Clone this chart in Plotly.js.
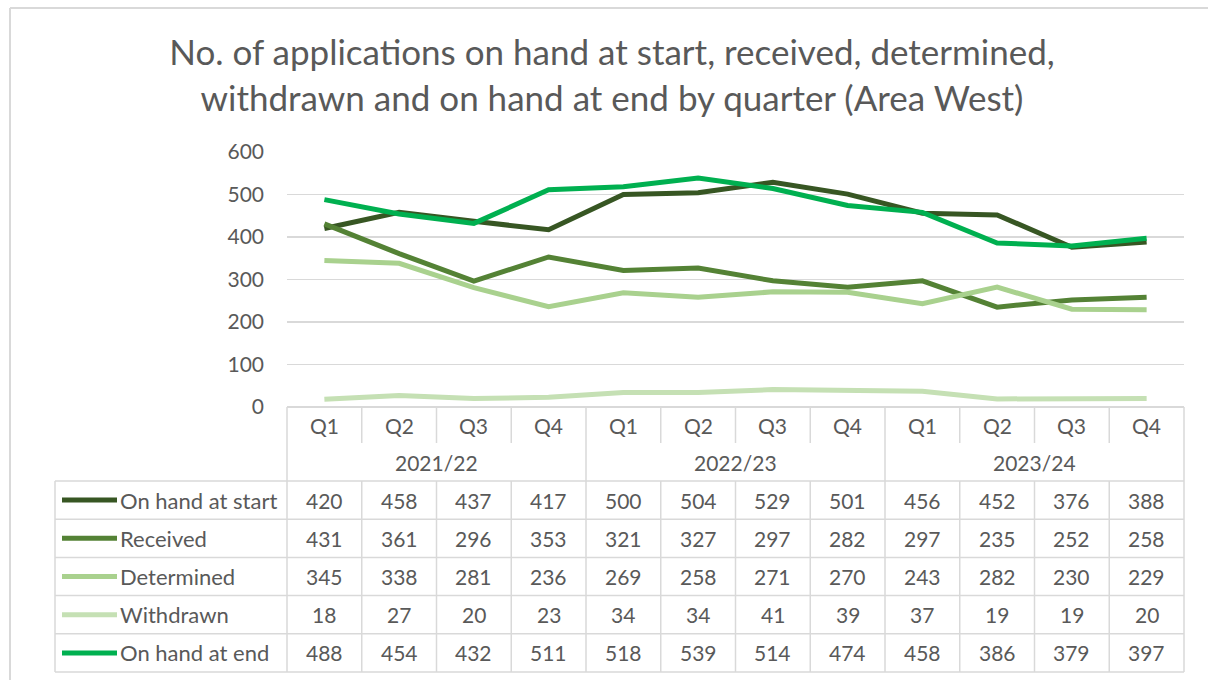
<!DOCTYPE html>
<html>
<head>
<meta charset="utf-8">
<script src="https://cdn.plot.ly/plotly-3.0.1.min.js"></script>
<style>html,body{margin:0;padding:0;background:#fff;}#chart{width:1208px;height:680px;}</style>
</head>
<body>
<div id="chart"></div>
<script>
// ---- Data ----
const quarters = ['Q1','Q2','Q3','Q4','Q1','Q2','Q3','Q4','Q1','Q2','Q3','Q4'];
const years = ['2021/22','2022/23','2023/24'];
const seriesNames = ['On hand at start','Received','Determined','Withdrawn','On hand at end'];
const onHandStart = [420,458,437,417,500,504,529,501,456,452,376,388];
const received    = [431,361,296,353,321,327,297,282,297,235,252,258];
const determined  = [345,338,281,236,269,258,271,270,243,282,230,229];
const withdrawn   = [18,27,20,23,34,34,41,39,37,19,19,20];
const onHandEnd   = [488,454,432,511,518,539,514,474,458,386,379,397];
const seriesColors = ['#375623','#548235','#A9D18E','#C5E0B4','#00B050'];

const allSeries = [onHandStart, received, determined, withdrawn, onHandEnd];

// ---- Layout geometry (pixels) ----
const W = 1208, H = 680;
const L = 287, R = 1184, T = 152, B = 407;
const px2x = p => (p - L) / (R - L);
const px2y = p => (B - p) / (B - T);
const nCat = quarters.length;
const colX = i => i / nCat; // paper x of column boundary i

const qRowBottom = 443, yearRowBottom = 481, rowH = 38.2, legendLeft = 55;
const rowTop = r => yearRowBottom + r * rowH;
const tableBottom = rowTop(seriesNames.length);
const gridColor = '#d9d9d9';
const textColor = '#595959';
const FONT = 'Lato, "Noto Sans", sans-serif';
const cellFont = {family: FONT, size: 21, color: textColor};

const xIdx = quarters.map((_, i) => i);

const traces = allSeries.map((vals, s) => ({
  type: 'scatter', mode: 'lines', x: xIdx, y: vals, name: seriesNames[s],
  line: {color: seriesColors[s], width: 5}, hoverinfo: 'skip'
}));

const shapes = [];
const annotations = [];
const hline = (x0, x1, py) => shapes.push({type:'line', xref:'paper', yref:'paper', x0, x1, y0:px2y(py), y1:px2y(py), line:{color:gridColor, width:1.5}});
const vline = (x, py0, py1) => shapes.push({type:'line', xref:'paper', yref:'paper', x0:x, x1:x, y0:px2y(py0), y1:px2y(py1), line:{color:gridColor, width:1.5}});

// Outer chart border (top & left visible)
shapes.push({type:'line', xref:'paper', yref:'paper', x0:px2x(10), x1:px2x(W), y0:px2y(8), y1:px2y(8), line:{color:gridColor, width:2}});
shapes.push({type:'line', xref:'paper', yref:'paper', x0:px2x(10), x1:px2x(10), y0:px2y(8), y1:px2y(H), line:{color:gridColor, width:2}});

// Table: column separators
for (let i = 0; i <= nCat; i++) {
  if (i % 4 === 0) vline(colX(i), B, tableBottom);
  else { vline(colX(i), B, qRowBottom); vline(colX(i), yearRowBottom, tableBottom); }
}
// horizontal lines of the data rows
for (let r = 0; r <= seriesNames.length; r++) hline(px2x(legendLeft), 1, rowTop(r));
vline(px2x(legendLeft), yearRowBottom, tableBottom);

// Quarter labels
quarters.forEach((q, i) => annotations.push({xref:'x', yref:'paper', x:i, y:px2y((B+qRowBottom)/2), text:q, showarrow:false, xanchor:'center', yanchor:'middle', font:cellFont}));
// Year labels
years.forEach((yr, k) => annotations.push({xref:'x', yref:'paper', x:k*4+1.5, y:px2y((qRowBottom+yearRowBottom)/2), text:yr, showarrow:false, xanchor:'center', yanchor:'middle', font:cellFont}));
// Data rows
allSeries.forEach((vals, s) => {
  const cy = px2y(rowTop(s) + rowH/2);
  vals.forEach((v, i) => annotations.push({xref:'x', yref:'paper', x:i, y:cy, text:String(v), showarrow:false, xanchor:'center', yanchor:'middle', font:cellFont}));
  annotations.push({xref:'paper', yref:'paper', x:px2x(118), y:cy, text:seriesNames[s], showarrow:false, xanchor:'left', yanchor:'middle', font:{family:FONT, size:22, color:textColor}});
  shapes.push({type:'line', xref:'paper', yref:'paper', x0:px2x(62), x1:px2x(117), y0:cy, y1:cy, line:{color:seriesColors[s], width:5}});
});

const layout = {
  width: W, height: H,
  margin: {l: L, r: W - R, t: T, b: H - B, pad: 0},
  paper_bgcolor: '#ffffff', plot_bgcolor: '#ffffff',
  showlegend: false,
  title: {
    text: 'No. of applications on hand at start, received, determined,<br>withdrawn and on hand at end by quarter (Area West)',
    xref: 'container', yref: 'container', x: 612/W, y: 1 - 65/H, xanchor: 'center', yanchor: 'middle',
    font: {family: FONT, size: 35, color: textColor}
  },
  xaxis: {range: [-0.5, nCat - 0.5], showgrid: false, zeroline: false, showticklabels: false, ticks: '', showline: false, fixedrange: true},
  yaxis: {range: [0, 600], dtick: 100, tick0: 0, showgrid: true, gridcolor: gridColor, gridwidth: 1.5, zeroline: true, zerolinecolor: gridColor, zerolinewidth: 1.5,
          showline: false, ticks: '', ticklabelstandoff: 22, tickfont: {family: FONT, size: 21, color: textColor}, fixedrange: true},
  shapes, annotations
};

Plotly.newPlot('chart', traces, layout, {staticPlot: true, displayModeBar: false});
</script>
</body>
</html>
